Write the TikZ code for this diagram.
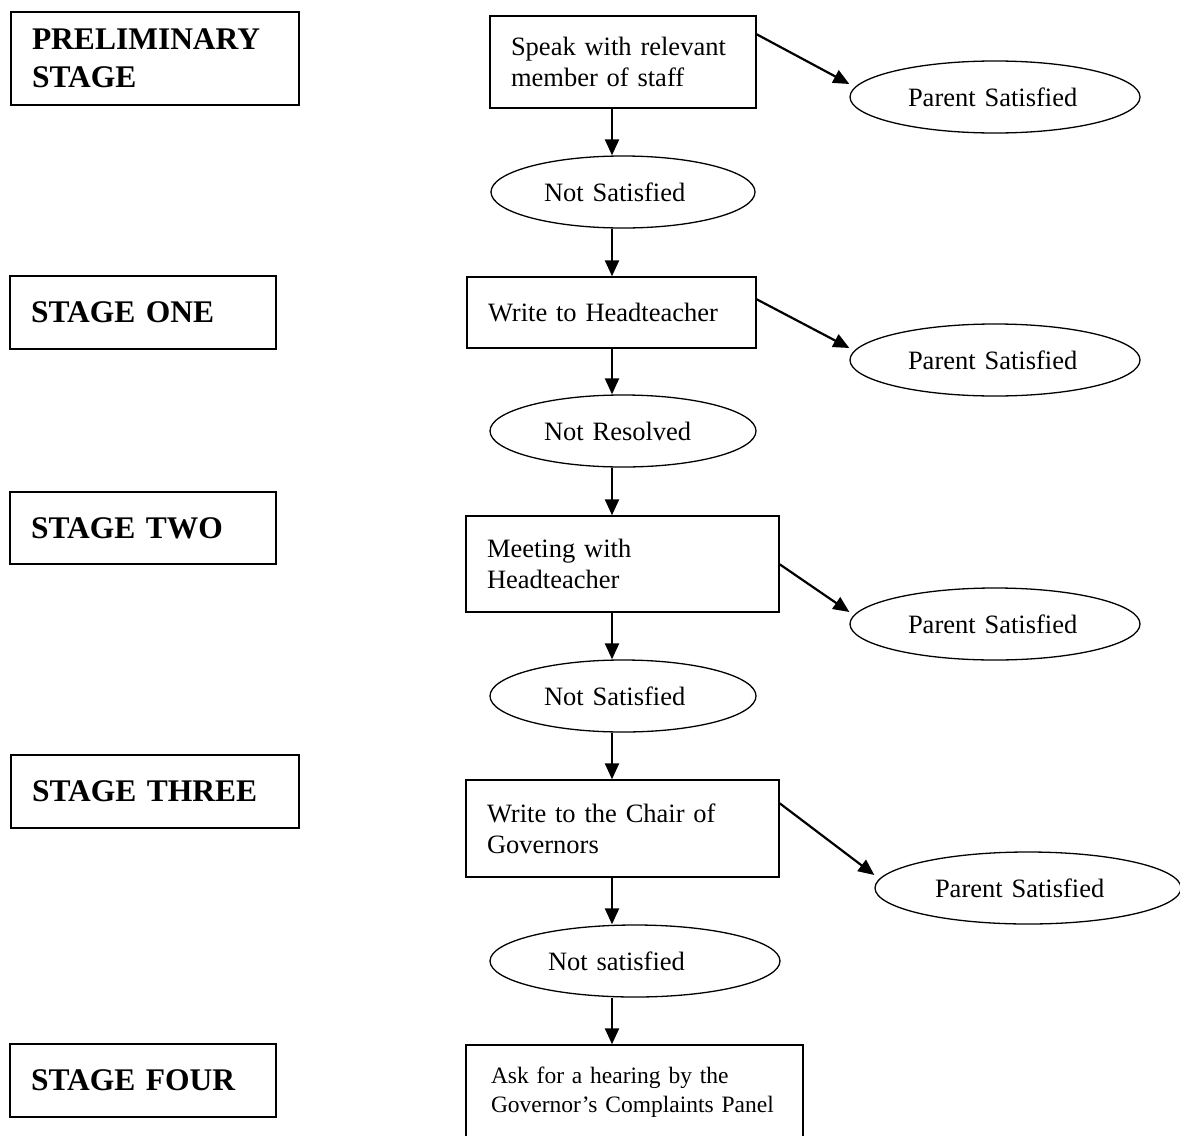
\documentclass[tikz,border=0pt]{standalone}
\usepackage{fontspec}
\setmainfont{Liberation Serif}
\usetikzlibrary{shapes.geometric,arrows.meta,calc}

\begin{document}
\begin{tikzpicture}[
  x=1pt, y=-1pt,
  stage/.style={
    rectangle, draw, line width=1.5pt,
    inner xsep=21pt, inner ysep=0pt,
    align=left,
    font=\bfseries\fontsize{31.5}{38}\selectfont
  },
  action/.style={
    rectangle, draw, line width=1.4pt,
    inner xsep=21pt, inner ysep=0pt,
    align=left,
    font=\fontsize{26.5}{31}\selectfont
  },
  oval/.style={
    ellipse, draw, line width=1.3pt, inner sep=0pt,
    minimum width=266pt, minimum height=72pt,
    text width=158pt, align=left,
    font=\fontsize{26.5}{30}\selectfont
  },
  arr/.style={-{Triangle[length=16pt,width=14pt]}, line width=2.2pt}
]
\useasboundingbox (0,0) rectangle (1180,1135);
\clip (0,0) rectangle (1180,1135);

% colonna delle fasi
\node[stage, text width=246pt, minimum height=93pt] (prelim) at (155,58.5) {PRELIMINARY\\STAGE};
\node[stage, text width=224pt, minimum height=73pt] (one)   at (143,312.5) {STAGE ONE};
\node[stage, text width=224pt, minimum height=72pt] (two)   at (143,528)   {STAGE TWO};
\node[stage, text width=246pt, minimum height=73pt] (three) at (155,791.5) {STAGE THREE};
\node[stage, text width=224pt, minimum height=73pt] (four)  at (143,1080.5) {STAGE FOUR};

% colonna centrale
\node[action, text width=224pt, minimum height=92pt] (speak) at (623,62)    {Speak with relevant\\member of staff};
\node[action, text width=247pt, minimum height=71pt] (head)  at (611.5,312.5) {Write to Headteacher};
\node[action, text width=271pt, minimum height=96pt] (meet)  at (622.5,564) {Meeting with\\Headteacher};
\node[action, text width=271pt, minimum height=97pt] (chair) at (622.5,828.5) {Write to the Chair of\\Governors};
\node[action, inner xsep=25pt, text width=287pt, minimum height=95pt,
      font=\fontsize{23.5}{29}\selectfont] (ask) at (634.5,1092.5) {Ask for a hearing by the\\Governor’s Complaints Panel};

\node[oval, minimum width=264pt] (notsat1) at (623,192) {Not Satisfied};
\node[oval] (notres)  at (623,431) {Not Resolved};
\node[oval] (notsat2) at (623,696) {Not Satisfied};
\node[oval, minimum width=290pt, text width=174pt] (notsat3) at (635,961) {Not satisfied};

% esiti a destra
\node[oval, minimum width=290pt, text width=174pt] (psat1) at (995,97)  {Parent Satisfied};
\node[oval, minimum width=290pt, text width=174pt] (psat2) at (995,360) {Parent Satisfied};
\node[oval, minimum width=290pt, text width=174pt] (psat3) at (995,624) {Parent Satisfied};
\node[oval, minimum width=306pt, text width=186pt] (psat4) at (1028,888) {Parent Satisfied};

\coordinate (spine) at (612,0);
\draw[arr] (speak.south -| spine) -- (notsat1.north -| spine);
\draw[arr] (notsat1.south -| spine) -- (head.north -| spine);
\draw[arr] (head.south -| spine) -- (notres.north -| spine);
\draw[arr] (notres.south -| spine) -- (meet.north -| spine);
\draw[arr] (meet.south -| spine) -- (notsat2.north -| spine);
\draw[arr] (notsat2.south -| spine) -- (chair.north -| spine);
\draw[arr] (chair.south -| spine) -- (notsat3.north -| spine);
\draw[arr] (notsat3.south -| spine) -- (ask.north -| spine);

\draw[arr] ($(speak.north east)+(0,19)$) -- ($(psat1.west)+(0,-13)$);
\draw[arr] ($(head.north east)+(0,23)$) -- ($(psat2.west)+(0,-12)$);
\draw[arr] ($(meet.north east)+(0,49)$) -- ($(psat3.west)+(0,-12)$);
\draw[arr] ($(chair.north east)+(0,24)$) -- ($(psat4.west)+(0,-13)$);
\end{tikzpicture}
\end{document}
